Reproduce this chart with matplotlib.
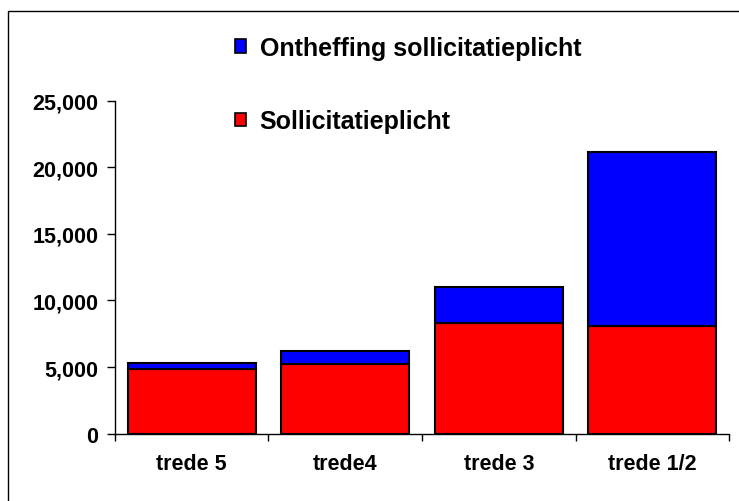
import matplotlib
matplotlib.use('Agg')
from matplotlib import pyplot as plt
from matplotlib.patches import Patch
from matplotlib.lines import Line2D
from matplotlib.ticker import FuncFormatter

# Chart data.
categories = ['trede 5', 'trede4', 'trede 3', 'trede 1/2']
sollicitatieplicht = [4850, 5250, 8290, 8110]
ontheffing = [430, 950, 2700, 13060]
seriesNames = ['Ontheffing sollicitatieplicht', 'Sollicitatieplicht']
yTicks = [0, 5000, 10000, 15000, 20000, 25000]

plt.rcParams['font.family'] = ['Liberation Sans', 'DejaVu Sans']
plt.rcParams['font.weight'] = 'bold'

fig = plt.figure(figsize=(7.39, 5.02), dpi=100)
ax = fig.add_axes([0.1556, 0.1341, 0.9865 - 0.1556, 0.7978 - 0.1341])

x = range(len(categories))
barWidth = 0.835
ax.bar(x, sollicitatieplicht, barWidth, color='#FF0000', edgecolor='black',
       linewidth=1.5)
ax.bar(x, ontheffing, barWidth, bottom=sollicitatieplicht, color='#0000FF',
       edgecolor='black', linewidth=1.5)

ax.set_xlim(-0.5, len(categories) - 0.5)
ax.set_ylim(0, 25000)
ax.set_yticks(yTicks)
ax.yaxis.set_major_formatter(FuncFormatter(lambda v, p: '{:,.0f}'.format(v)))

# Category labels between boundary ticks.
ax.set_xticks(list(x))
ax.set_xticklabels(categories)
ax.set_xticks([i - 0.5 for i in range(len(categories) + 1)], minor=True)
ax.tick_params(axis='x', which='major', length=0, pad=14, labelsize=15.5)
ax.tick_params(axis='x', which='minor', length=5, width=1, direction='out')
ax.tick_params(axis='y', length=6, width=1, pad=6, labelsize=15.5)

for name in ['top', 'right']:
  ax.spines[name].set_visible(False)
for name in ['left', 'bottom']:
  ax.spines[name].set_linewidth(1)

# Legend.
handles = [Patch(facecolor='#0000FF', edgecolor='black', linewidth=1.2),
           Patch(facecolor='#FF0000', edgecolor='black', linewidth=1.2)]
fig.legend(handles, seriesNames, loc='upper left',
           bbox_to_anchor=(235 / 739, 1 - 37 / 502), frameon=False,
           fontsize=18, handlelength=0.44, handleheight=0.44,
           handletextpad=0.55, labelspacing=1.97, borderpad=0,
           borderaxespad=0)

# Outer frame (left and top edges visible).
fig.add_artist(Line2D([8 / 739, 8 / 739, 1.0], [0.0, 1 - 12 / 502, 1 - 12 / 502],
                      transform=fig.transFigure, color='black', linewidth=1))

fig.savefig('out.png', dpi=100)
